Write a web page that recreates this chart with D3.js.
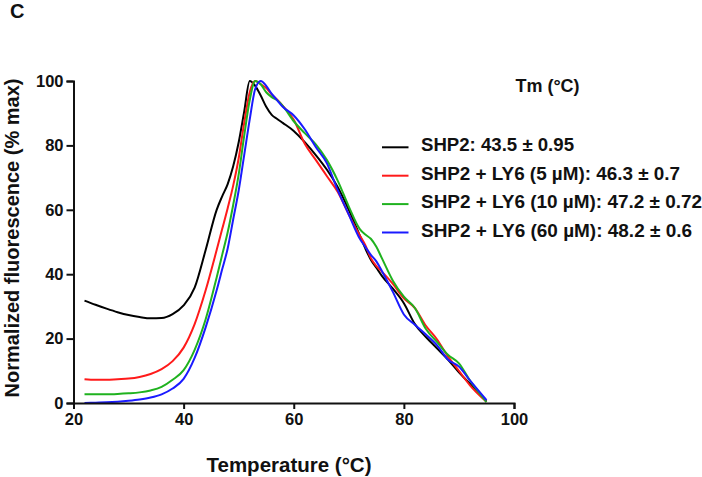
<!DOCTYPE html>
<html><head><meta charset="utf-8">
<script src="https://cdn.jsdelivr.net/npm/d3@7"></script>
<style>body{margin:0;background:#fff}svg{display:block}text{font-family:"Liberation Sans",Arial,sans-serif;font-weight:bold;fill:#111}</style>
</head><body>
<script>
const temps = [22,24,26,28,30,32,34,36,38,40,42,44,46,47,48,49,50,51,52,53,54,55,56,57,58,60,62,64,66,68,70,72,73,74,75,76,78,80,82,84,86,88,90,92,95];
const shp2 = [31.8,30.5,29.3,28.2,27.3,26.7,26.3,26.4,27.6,30.3,35.8,47.5,60,64.2,68,73.5,81,90.5,100,98.5,95.5,92,89.5,88.2,87,84.5,81,77,72.5,67,60,52,48,44.5,42,39.5,35.5,31,24.5,20.5,17,13.5,9.5,6,0.5];
const ly5 = [7.4,7.2,7.2,7.4,7.6,8.1,9.0,10.5,13,17.2,24.5,35,47.5,54,60.5,67.5,76,87,96.5,100,99,97.8,95.8,94.2,92.3,88,80.5,75.5,70.5,65.5,58.5,52,49,45,42.5,40.8,37,32.5,29.5,24,19.8,14.5,10,5.5,0.4];
const ly10 = [2.7,2.7,2.7,2.8,3.0,3.3,3.9,5.0,7.2,10.2,16.5,26,39,46,53,61.5,71,83,94,100,99,96.5,95,94,92.3,87.5,83.8,80.3,75.5,69,61,54,52.3,51,48.5,45,38,33,29.5,23,19,15,12.3,7,0.3];
const ly60 = [0.0,0.1,0.2,0.4,0.7,1.1,1.7,2.7,4.5,7.5,14,23.5,35,41.5,48,57,66,77,88,97.5,100,98.5,96,94,92,89.3,85,79.5,74.5,66,58.5,51,48.5,46,44,41,34.5,27.5,24.3,21.3,18,13.5,11.3,7,0.9];
const seriesNames = ["SHP2: 43.5 \u00b1 0.95","SHP2 + LY6 (5 \u00b5M): 46.3 \u00b1 0.7","SHP2 + LY6 (10 \u00b5M): 47.2 \u00b1 0.72","SHP2 + LY6 (60 \u00b5M): 48.2 \u00b1 0.6"];
const seriesColors = ["#000000","#ff1a1a","#1fb21f","#1a1aff"];
const xTicks = [20,40,60,80,100];
const yTicks = [0,20,40,60,80,100];

const W = 702, H = 477;
const svg = d3.select("body").append("svg").attr("width",W).attr("height",H);
const x = d3.scaleLinear().domain([20,100]).range([73.5,514]);
const y = d3.scaleLinear().domain([0,100]).range([403,81]);

const allSeries = [shp2, ly5, ly10, ly60];
const line = d3.line().x(d=>x(d[0])).y(d=>y(d[1])).curve(d3.curveMonotoneX);
allSeries.forEach((vals,i)=>{
  svg.append("path").datum(temps.map((t,j)=>[t,vals[j]]))
    .attr("d",line).attr("fill","none").attr("stroke",seriesColors[i]).attr("stroke-width",2);
});

const xAxis = svg.append("g").attr("transform","translate(0,403)")
  .call(d3.axisBottom(x).tickValues(xTicks).tickSize(6).tickPadding(4));
const yAxis = svg.append("g").attr("transform","translate(73.5,0)")
  .call(d3.axisLeft(y).tickValues(yTicks).tickSize(7).tickPadding(3));
[xAxis,yAxis].forEach(g=>{
  g.select(".domain").attr("stroke","#111").attr("stroke-width",2);
  g.selectAll(".tick line").attr("stroke","#111").attr("stroke-width",2);
  g.selectAll(".tick text").attr("font-size",16.5).attr("font-family","Liberation Sans, Arial, sans-serif").attr("font-weight","bold").attr("fill","#111");
});

svg.append("text").attr("x",289).attr("y",472).attr("text-anchor","middle").attr("font-size",20.5).text("Temperature (\u00b0C)");
svg.append("text").attr("transform","translate(19,238) rotate(-90)").attr("text-anchor","middle").attr("font-size",20).text("Normalized fluorescence (% max)");
svg.append("text").attr("x",10).attr("y",18).attr("font-size",20).text("C");

svg.append("text").attr("x",547.5).attr("y",92).attr("text-anchor","middle").attr("font-size",18).text("Tm (\u00b0C)");
const legendWidths = [153, 259, 281, 271];
const lg = svg.append("g");
seriesNames.forEach((n,i)=>{
  const cy = 147.3 + i*28.4;
  lg.append("line").attr("x1",382).attr("x2",408.5).attr("y1",cy).attr("y2",cy).attr("stroke",seriesColors[i]).attr("stroke-width",2);
  lg.append("text").attr("x",421).attr("y",cy+4).attr("font-size",17.5)
    .attr("textLength",legendWidths[i]).attr("lengthAdjust","spacingAndGlyphs").text(n);
});
</script>
</body></html>
